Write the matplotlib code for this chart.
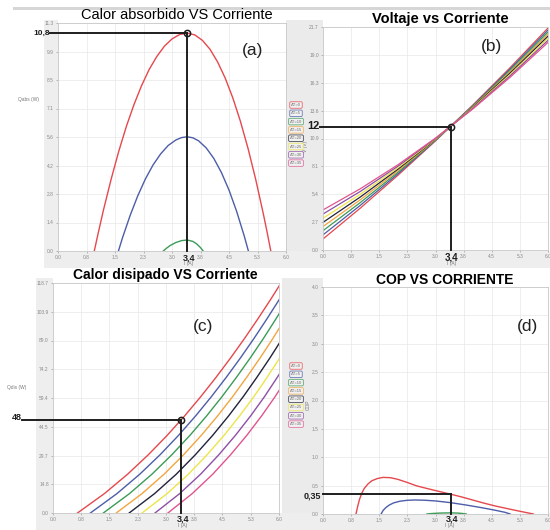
import matplotlib.pyplot as plt
from matplotlib.patches import Rectangle

plt.rcParams['font.family'] = ['Liberation Sans', 'DejaVu Sans']

W, H = 550, 530

# series colours (same order in every panel / legend)
colors = ['#e5484d', '#4d5da8', '#3b9b57', '#f2a541', '#22223a', '#ece54a', '#8e4fa6', '#e0558f']
legend_labels = ['ΔT=0', 'ΔT=5', 'ΔT=10', 'ΔT=15', 'ΔT=20', 'ΔT=25', 'ΔT=30', 'ΔT=35']

x_ticks = [0.0, 0.75, 1.5, 2.25, 3.0, 3.75, 4.5, 5.25, 6.0]
x_tick_labels = ['0.0', '0.8', '1.5', '2.3', '3.0', '3.8', '4.5', '5.3', '6.0']

# (a) Calor absorbido
qabs_i = [
    [0.955, 1.05, 1.2, 1.4, 1.6, 1.8, 2.0, 2.2, 2.4, 2.6, 2.8, 3.0, 3.2, 3.4,
     3.6, 3.8, 4.0, 4.2, 4.4, 4.6, 4.8, 5.0, 5.2, 5.4, 5.5, 5.6],
    [1.59, 1.7, 1.9, 2.1, 2.3, 2.5, 2.7, 2.9, 3.1, 3.25, 3.4, 3.55, 3.7, 3.9, 4.1, 4.3, 4.5, 4.7, 4.9, 5.01],
    [2.77, 2.85, 2.95, 3.1, 3.25, 3.4, 3.55, 3.65, 3.75, 3.82],
]
qabs = [
    [0, 0.82, 2.06, 3.57, 4.95, 6.18, 7.26, 8.20, 9.0, 9.64, 10.15, 10.51, 10.73, 10.8,
     10.71, 10.44, 10.0, 9.37, 8.57, 7.59, 6.43, 5.09, 3.57, 1.87, 0.96, 0],
    [0, 0.67, 1.77, 2.74, 3.57, 4.26, 4.81, 5.23, 5.50, 5.62, 5.66, 5.61, 5.46, 5.11, 4.59, 3.89, 3.02, 1.97, 0.75, 0],
    [0, 0.13, 0.27, 0.42, 0.514, 0.545, 0.475, 0.352, 0.167, 0],
]
qabs_yticks = [0, 1.4125, 2.825, 4.2375, 5.65, 7.0625, 8.475, 9.8875, 11.3]
qabs_ylabels = ['0.0', '1.4', '2.8', '4.2', '5.6', '7.1', '8.5', '9.9', '11.3']

# (b) Voltaje
v_i = [0, 1, 2, 3, 4, 5, 6]
voltage = [
    [1.07, 4.09, 7.28, 10.62, 14.12, 17.78, 21.60],
    [1.47, 4.36, 7.42, 10.66, 14.06, 17.65, 21.40],
    [1.88, 4.63, 7.57, 10.70, 14.01, 17.51, 21.20],
    [2.28, 4.90, 7.72, 10.74, 13.95, 17.38, 21.00],
    [2.69, 5.17, 7.87, 10.78, 13.90, 17.25, 20.80],
    [3.09, 5.44, 8.01, 10.81, 13.85, 17.11, 20.60],
    [3.50, 5.71, 8.16, 10.85, 13.79, 16.98, 20.40],
    [3.90, 5.97, 8.30, 10.89, 13.74, 16.84, 20.20],
]
v_yticks = [0, 2.7125, 5.425, 8.1375, 10.85, 13.5625, 16.275, 18.9875, 21.7]
v_ylabels = ['0.0', '2.7', '5.4', '8.1', '10.9', '13.6', '16.3', '19.0', '21.7']

# (c) Calor disipado
qdis_levels = [0, 10, 20, 30, 40, 50, 60, 70, 80, 90, 100, 110, 120]
qdis_i = [
    [0.650, 1.364, 1.979, 2.528, 3.028, 3.490, 3.921, 4.328, 4.714, 5.082, 5.433, 5.771, 6.096],
    [0.993, 1.697, 2.302, 2.840, 3.330, 3.782, 4.203, 4.599, 4.975, 5.333, 5.673, 6.001, 6.316],
    [1.336, 2.030, 2.625, 3.152, 3.632, 4.074, 4.485, 4.870, 5.236, 5.584, 5.913, 6.231, 6.536],
    [1.679, 2.363, 2.948, 3.464, 3.934, 4.366, 4.767, 5.141, 5.497, 5.835, 6.153, 6.461, 6.756],
    [2.022, 2.696, 3.271, 3.776, 4.236, 4.658, 5.049, 5.412, 5.758, 6.086, 6.393, 6.691, 6.976],
    [2.365, 3.029, 3.594, 4.088, 4.538, 4.950, 5.331, 5.683, 6.019, 6.337, 6.633, 6.921, 7.196],
    [2.708, 3.362, 3.917, 4.400, 4.840, 5.242, 5.613, 5.954, 6.280, 6.588, 6.873, 7.151, 7.416],
    [3.051, 3.695, 4.240, 4.712, 5.142, 5.534, 5.895, 6.225, 6.541, 6.839, 7.113, 7.381, 7.636],
]
qdis_yticks = [0, 14.8375, 29.675, 44.5125, 59.35, 74.1875, 89.025, 103.8625, 118.7]
qdis_ylabels = ['0.0', '14.8', '29.7', '44.5', '59.4', '74.2', '89.0', '103.9', '118.7']

# (d) COP
cop_i = [
    [0.88, 0.92, 0.97, 1.03, 1.1, 1.2, 1.3, 1.45, 1.6, 1.8, 2.0, 2.25, 2.5, 2.8, 3.1, 3.4,
     3.7, 4.0, 4.3, 4.6, 4.95, 5.2, 5.4, 5.61],
    [1.55, 1.6, 1.67, 1.76, 1.88, 2.05, 2.25, 2.45, 2.7, 3.0, 3.4, 3.8, 4.2, 4.6, 4.85, 4.99],
    [2.77, 2.9, 3.1, 3.4, 3.6, 3.72, 3.82],
]
cop = [
    [0, 0.12, 0.25, 0.36, 0.45, 0.53, 0.585, 0.625, 0.645, 0.64, 0.61, 0.555, 0.495, 0.445, 0.397, 0.35,
     0.30, 0.245, 0.19, 0.14, 0.09, 0.055, 0.028, 0],
    [0, 0.06, 0.11, 0.155, 0.195, 0.225, 0.242, 0.247, 0.243, 0.23, 0.20, 0.16, 0.115, 0.065, 0.03, 0],
    [0, 0.008, 0.016, 0.02, 0.016, 0.009, 0],
]
cop_yticks = [0, 0.5, 1.0, 1.5, 2.0, 2.5, 3.0, 3.5, 4.0]
cop_ylabels = ['0.0', '0.5', '1.0', '1.5', '2.0', '2.5', '3.0', '3.5', '4.0']


def box(l, t, r, b):
    return [l / W, 1 - b / H, (r - l) / W, (b - t) / H]


def px(x, y):
    return x / W, 1 - y / H


fig = plt.figure(figsize=(W / 100, H / 100), dpi=100)
fig.patch.set_facecolor('white')

# light grey app background strips
for (l, t, r, b), c in [((13, 7, 550, 10), '#d6d6d6'),
                        ((44, 20, 58, 268), '#eeeeee'),
                        ((286, 20, 323, 268), '#ebebeb'),
                        ((44, 251, 550, 268), '#eeeeee'),
                        ((36, 278, 53, 530), '#eeeeee'),
                        ((282, 278, 323, 530), '#ebebeb'),
                        ((36, 513, 550, 530), '#eeeeee')]:
    x0, y0 = px(l, b)
    fig.patches.append(Rectangle((x0, y0), (r - l) / W, (b - t) / H, transform=fig.transFigure,
                                 facecolor=c, edgecolor='none', zorder=-1))


def style(ax, yt, ylab):
    ax.set_xlim(0, 6)
    ax.set_ylim(0, yt[-1])
    ax.set_xticks(x_ticks)
    ax.set_xticklabels(x_tick_labels)
    ax.set_yticks(yt)
    ax.set_yticklabels(ylab)
    ax.tick_params(labelsize=3.5, colors='#8a8a8a', length=1.5, width=0.4, pad=1.5)
    ax.grid(color='#e8e8e8', lw=0.5)
    ax.set_axisbelow(True)
    for s in ax.spines.values():
        s.set_color('#c8c8c8')
        s.set_linewidth(0.6)


def mark(ax, x, y, x_start, circle=True):
    ax.plot([x_start, x], [y, y], color='#1e1e1e', lw=1.4, clip_on=False, zorder=5)
    ax.plot([x, x], [y, 0], color='#1e1e1e', lw=1.4, clip_on=False, zorder=5)
    if circle:
        ax.plot(x, y, 'o', mfc='none', mec='#1e1e1e', ms=4.5, mew=1.1, zorder=6)


ax_a = fig.add_axes(box(58, 23, 286, 251))
ax_b = fig.add_axes(box(323, 27, 548, 250))
ax_c = fig.add_axes(box(53, 283, 279, 513))
ax_d = fig.add_axes(box(323, 287, 548, 514))

style(ax_a, qabs_yticks, qabs_ylabels)
style(ax_b, v_yticks, v_ylabels)
style(ax_c, qdis_yticks, qdis_ylabels)
style(ax_d, cop_yticks, cop_ylabels)

for i, q, c in zip(qabs_i, qabs, colors):
    ax_a.plot(i, q, color=c, lw=1.0)
for v, c in zip(voltage, colors):
    ax_b.plot(v_i, v, color=c, lw=0.9)
for i, c in zip(qdis_i, colors):
    ax_c.plot(i, qdis_levels, color=c, lw=1.0)
for i, k, c in zip(cop_i, cop, colors):
    ax_d.plot(i, k, color=c, lw=1.0)

mark(ax_a, 3.4, 10.8, -0.21)
mark(ax_b, 3.4, 12, -0.08)
mark(ax_c, 3.4, 48, -0.82)
mark(ax_d, 3.4, 0.35, 0.0, circle=False)

# titles
fig.text(*px(177, 15), 'Calor absorbido VS Corriente', fontsize=10.5, ha='center', va='center')
fig.text(*px(440, 19), 'Voltaje vs Corriente', fontsize=10.5, fontweight='bold', ha='center', va='center')
fig.text(*px(165, 275), 'Calor disipado VS Corriente', fontsize=10, fontweight='bold', ha='center', va='center')
fig.text(*px(445, 280), 'COP VS CORRIENTE', fontsize=10, fontweight='bold', ha='center', va='center')

# panel letters
for (x, y), s in [((253, 50), '(a)'), ((491, 47), '(b)'), ((203, 327), '(c)'), ((527, 327), '(d)')]:
    fig.text(*px(x, y), s, fontsize=12.5, ha='center', va='center', color='#222222')

# bold value labels
for (x, y), s, fs, ha in [((50, 33), '10,8', 6, 'right'), ((189, 258), '3,4', 6.5, 'center'),
                          ((320, 126), '12', 8, 'right'), ((452, 257), '3,4', 7, 'center'),
                          ((22, 417), '48', 6.5, 'right'), ((183, 519), '3,4', 6.5, 'center'),
                          ((321, 496), '0,35', 6.5, 'right'), ((452, 519), '3,4', 6.5, 'center')]:
    fig.text(*px(x, y), s, fontsize=fs, fontweight='bold', ha=ha, va='center', color='#1e1e1e')

# small axis labels
for (x, y), s, rot in [((28, 100), 'Qabs (W)', 0), ((189, 264), 'I (A)', 0),
                       ((305, 146), 'V (V)', 90), ((452, 264), 'I (A)', 0),
                       ((17, 388), 'Qdis (W)', 0), ((183, 526), 'I (A)', 0),
                       ((308, 405), 'COP', 90), ((450, 526), 'I (A)', 0)]:
    fig.text(*px(x, y), s, fontsize=3.5, rotation=rot, ha='center', va='center', color='#777777')

# legends (little boxed entries)
for y0 in (105, 366):
    for k, (lab, c) in enumerate(zip(legend_labels, colors)):
        fig.text(*px(296, y0 + 8.3 * k), lab, fontsize=3, ha='center', va='center', color='#666666',
                 bbox=dict(boxstyle='round,pad=0.3', fc='#f3f3f3', ec=c, lw=0.6, alpha=0.8))

fig.savefig('out.png', dpi=100)
